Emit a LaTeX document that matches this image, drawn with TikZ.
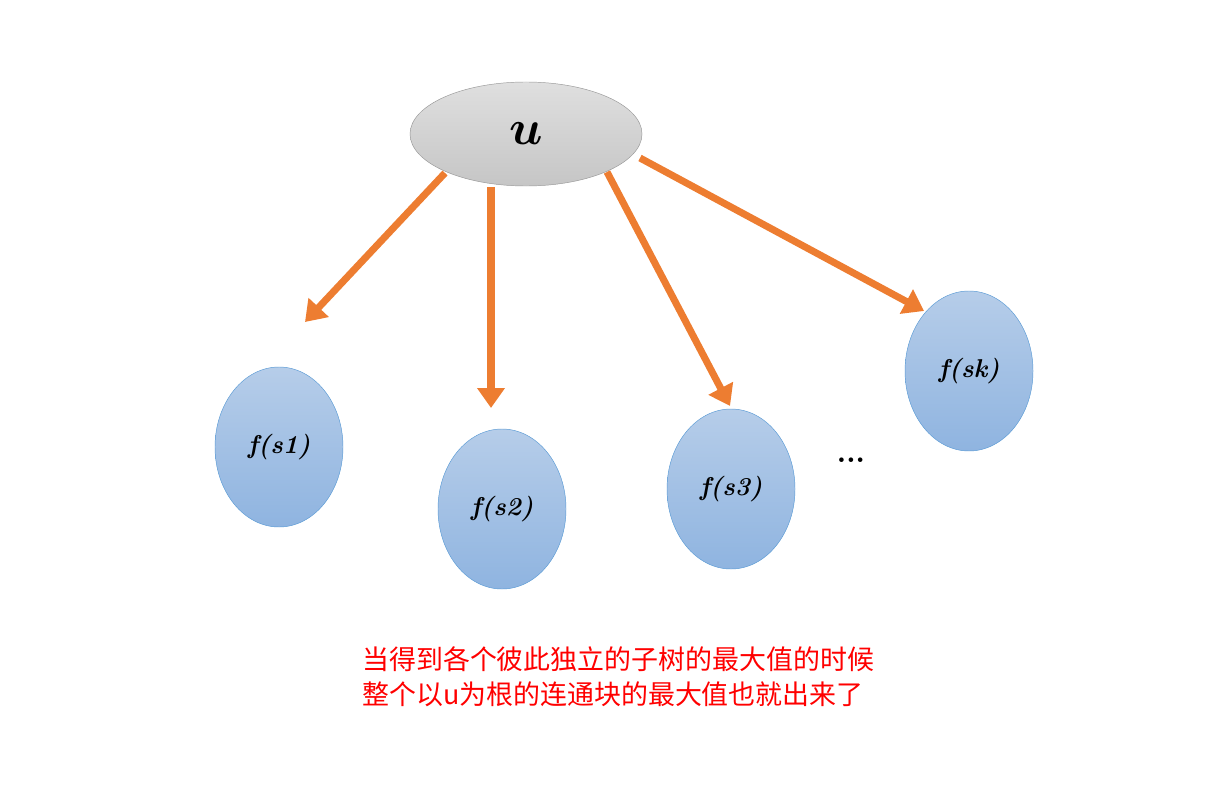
\documentclass[tikz,border=0pt]{standalone}
\usepackage{amsmath,bm}
\usepackage{fontspec}
\newfontfamily\cjk{Noto Sans CJK SC}
\usetikzlibrary{shapes.geometric,arrows.meta}
\definecolor{arrowc}{HTML}{ED7D31}
\definecolor{blueborder}{HTML}{5B9BD5}
\definecolor{bluetop}{HTML}{B6CDE9}
\definecolor{bluebot}{HTML}{8FB4E0}
\tikzset{
  root/.style={ellipse,draw=gray!80,top color=gray!25,bottom color=gray!45,
    minimum width=232*0.3mm,minimum height=104*0.3mm,inner sep=0pt},
  sub/.style={ellipse,draw=blueborder,top color=bluetop,bottom color=bluebot,
    minimum width=128*0.3mm,minimum height=160*0.3mm,inner sep=0pt,
    font=\fontsize{22}{24}\selectfont\bfseries\itshape},
  edge/.style={arrowc,line width=6pt,-{Triangle[length=0.6cm,width=0.8cm]}}
}
\begin{document}
\begin{tikzpicture}[x=0.03cm,y=-0.03cm]
    \useasboundingbox (0,0) rectangle (1214,792);
    % nodes
    \node[root] (u) at (526,134) {\scalebox{4.2}{$\bm{u}$}};
    \node[sub] (s1) at (279,447) {f(s1)};
    \node[sub] (s2) at (502,509) {f(s2)};
    \node[sub] (s3) at (731,489) {f(s3)};
    \node[sub] (sk) at (969,371) {f(sk)};
    \node (dots) at (851,460) {\scalebox{2.5}{\bfseries...}};
    % arrow ends
    \coordinate (a1) at (445,173); \coordinate (b1) at (305,322);
    \coordinate (a2) at (491,187); \coordinate (b2) at (491,408);
    \coordinate (a3) at (607,172); \coordinate (b3) at (730,406);
    \coordinate (a4) at (640,158); \coordinate (b4) at (924,311);
    % arrows
    \draw[edge] (a1) -- (b1);
    \draw[edge] (a2) -- (b2);
    \draw[edge] (a3) -- (b3);
    \draw[edge] (a4) -- (b4);
    % text
    \node[anchor=north west,align=left,text=red,inner sep=0pt,
      font=\cjk\fontsize{23}{30}\selectfont] (note) at (362,646)
      {当得到各个彼此独立的子树的最大值的时候\\整个以u为根的连通块的最大值也就出来了};
\end{tikzpicture}
\end{document}
